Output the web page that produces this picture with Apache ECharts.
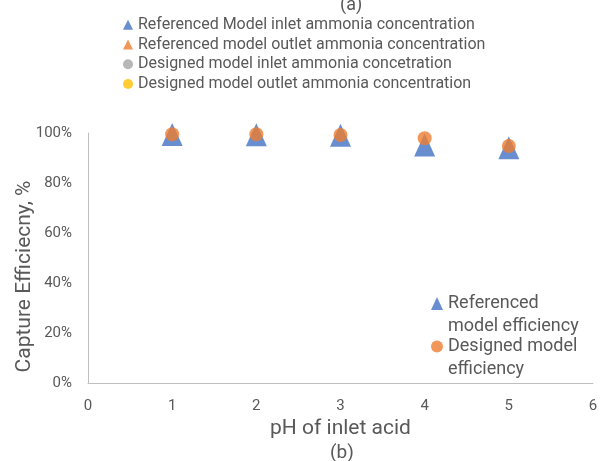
<!DOCTYPE html>
<html>
<head>
<meta charset="utf-8">
<script src="https://cdn.jsdelivr.net/npm/echarts@6/dist/echarts.min.js"></script>
<style>
  html, body { margin: 0; padding: 0; background: #fff; }
  #chart { width: 602px; height: 461px; }
</style>
</head>
<body>
<div id="chart"></div>
<script>
  var pH = [1, 2, 3, 4, 5];
  var referencedEff = [0.994, 0.993, 0.991, 0.952, 0.941];
  var designedEff = [0.995, 0.995, 0.992, 0.979, 0.948];
  var topLegendNames = [
    'Referenced Model inlet ammonia concentration',
    'Referenced model outlet ammonia concentration',
    'Designed model inlet ammonia concetration',
    'Designed model outlet ammonia concentration'
  ];
  var topLegendColors = ['#4472C4', '#ED7D31', '#A5A5A5', '#FFC000'];
  var topLegendSymbols = ['triangle', 'triangle', 'circle', 'circle'];

  var font = 'Roboto';
  var textColor = '#595959';

  function pairs(xs, ys) {
    return xs.map(function (x, i) { return [x, ys[i]]; });
  }

  // legend-only entries carried over from panel (a), no points in this panel
  var emptySeries = topLegendNames.map(function (name, i) {
    return {
      name: name,
      type: 'scatter',
      symbol: topLegendSymbols[i],
      itemStyle: { color: topLegendColors[i] },
      data: []
    };
  });

  // leading blank line keeps the icon level with the first text line
  var wrapped = {
    'Referenced model efficiency': ' \nReferenced\nmodel efficiency',
    'Designed model efficiency': ' \nDesigned model\nefficiency'
  };

  function effLegend(name, icon, top) {
    return {
      data: [{ name: name, icon: icon }],
      left: 431,
      top: top,
      padding: 0,
      itemWidth: 12,
      itemHeight: 13,
      selectedMode: false,
      formatter: function (n) { return wrapped[n]; },
      textStyle: { color: textColor, fontFamily: font, fontSize: 18, lineHeight: 23 }
    };
  }

  var option = {
    animation: false,
    backgroundColor: '#fff',
    grid: { left: 88, right: 9, top: 133, bottom: 78, outerBoundsMode: 'none', containLabel: false },
    legend: [
      {
        data: topLegendNames,
        orient: 'vertical',
        left: 123,
        top: 15,
        padding: 0,
        itemGap: 0,
        itemWidth: 10,
        itemHeight: 10,
        selectedMode: false,
        textStyle: { color: textColor, fontFamily: font, fontSize: 16, lineHeight: 19.7 }
      },
      effLegend('Referenced model efficiency', 'triangle', 269),
      effLegend('Designed model efficiency', 'circle', 312)
    ],
    graphic: [
      {
        type: 'text', left: 340, top: -4,
        style: { text: '(a)', fill: textColor, font: '18px Roboto' }
      },
      {
        type: 'text', left: 330, top: 444,
        style: { text: '(b)', fill: textColor, font: '19px Roboto' }
      }
    ],
    xAxis: {
      type: 'value',
      min: 0, max: 6, interval: 1,
      name: 'pH of inlet acid',
      nameLocation: 'middle',
      nameGap: 35,
      nameMoveOverlap: false,
      nameTextStyle: { color: textColor, fontFamily: font, fontSize: 21 },
      axisLine: { lineStyle: { color: '#BFBFBF', width: 1 } },
      axisTick: { show: false },
      splitLine: { show: false },
      axisLabel: { color: textColor, fontFamily: font, fontSize: 15, margin: 16 }
    },
    yAxis: {
      type: 'value',
      min: 0, max: 1, interval: 0.2,
      name: 'Capture Efficiecny, %',
      nameLocation: 'middle',
      nameGap: 53,
      nameMoveOverlap: false,
      // right padding pushes the rotated title down to sit lower like the original
      nameTextStyle: { color: textColor, fontFamily: font, fontSize: 21, padding: [0, 37, 0, 0] },
      axisLine: { show: true, lineStyle: { color: '#BFBFBF', width: 1 } },
      axisTick: { show: false },
      splitLine: { show: false },
      axisLabel: {
        color: textColor, fontFamily: font, fontSize: 15, margin: 16,
        formatter: function (v) { return Math.round(v * 100) + '%'; }
      }
    },
    series: emptySeries.concat([
      {
        name: 'Referenced model efficiency',
        type: 'scatter',
        symbol: 'triangle',
        symbolSize: [21, 23],
        clip: false,
        itemStyle: { color: '#4472C4' },
        data: pairs(pH, referencedEff)
      },
      {
        name: 'Designed model efficiency',
        type: 'scatter',
        symbol: 'circle',
        symbolSize: 14,
        clip: false,
        itemStyle: { color: '#ED7D31' },
        data: pairs(pH, designedEff)
      }
    ])
  };

  var chart = echarts.init(document.getElementById('chart'));
  chart.setOption(option);
</script>
</body>
</html>
